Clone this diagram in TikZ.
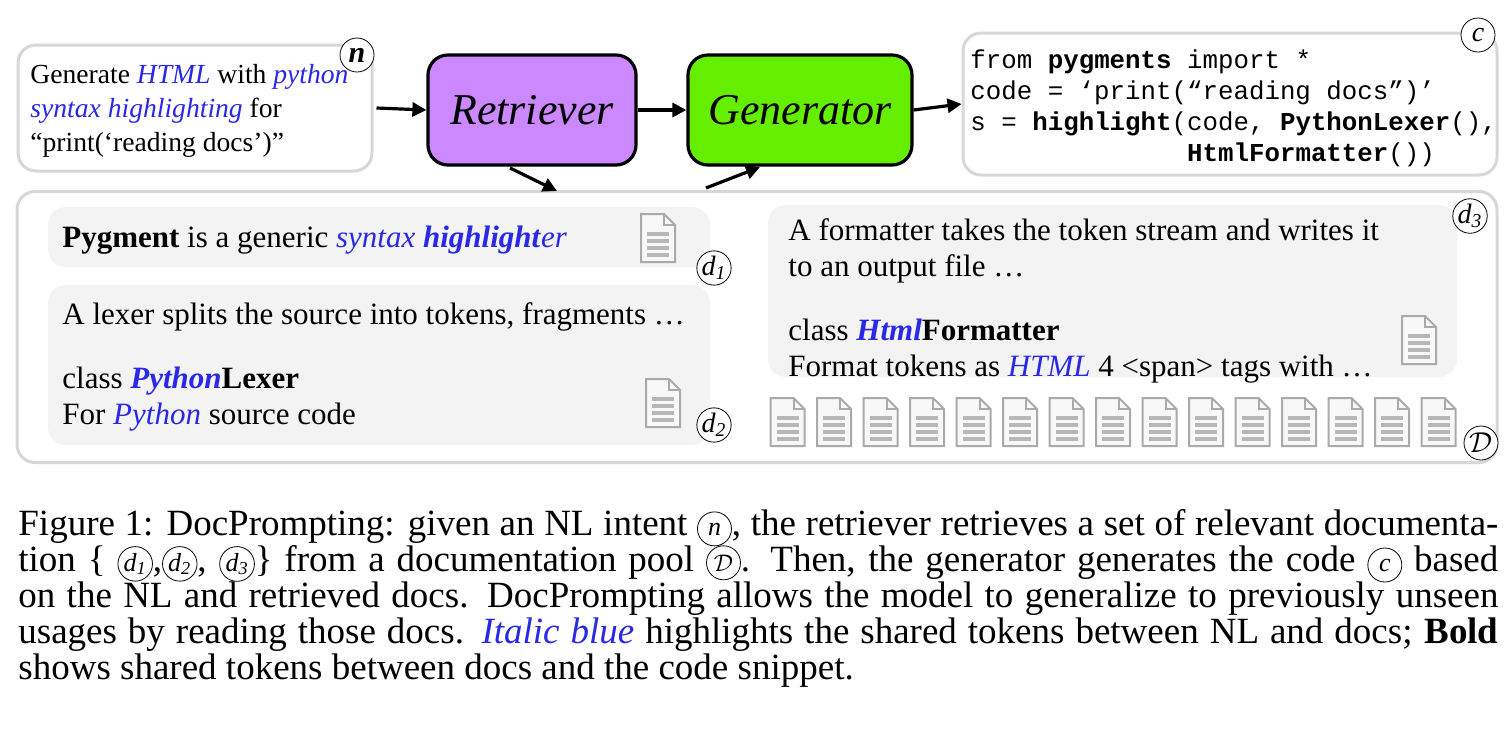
\documentclass[tikz,border=0pt]{standalone}
\usepackage{fontspec}
\setmainfont{Liberation Serif}
\setmonofont{Liberation Mono}
\usetikzlibrary{arrows.meta}
\definecolor{hb}{RGB}{40,40,230}
\definecolor{pur}{RGB}{204,136,255}
\definecolor{grn}{RGB}{102,238,0}
\definecolor{bx}{RGB}{215,215,215}
\definecolor{dfill}{RGB}{243,243,243}
\definecolor{ic}{RGB}{170,170,170}
\newcommand{\hl}[1]{\textcolor{hb}{\textit{#1}}}
\newcommand{\hlb}[1]{\textcolor{hb}{\textbf{\textit{#1}}}}
\newcommand{\cir}[1]{\tikz[baseline=(X.base)]\node[draw,circle,inner sep=0.5pt,minimum size=17pt,font=\itshape\fontsize{13}{13}\selectfont](X){#1};}
\tikzset{
  cbox/.style={draw=bx,line width=1.5pt,rounded corners=9pt},
  dbox/.style={fill=dfill,draw=none,rounded corners=9pt},
  model/.style={draw=black,line width=1.6pt,rounded corners=10pt,font=\itshape\fontsize{22}{24}\selectfont},
  arr/.style={-{Triangle[length=7pt,width=7pt]},line width=1.6pt},
  lab/.style={draw,circle,fill=white,inner sep=0pt,minimum size=17pt,font=\itshape\fontsize{14}{14}\selectfont},
  txt/.style={font=\fontsize{15.5}{19}\selectfont,anchor=north west,align=left,inner sep=0pt},
  doc/.pic={
    \draw[ic,fill=dfill!60,line width=1pt] (-17,-24)--(6,-24)--(17,-13)--(17,24)--(-17,24)--cycle;
    \draw[ic,line width=1pt] (6,-24)--(6,-13)--(17,-13);
    \foreach \yy in {-4,3,10,17}{\draw[ic!85,line width=2.2pt](-11,\yy)--(11,\yy);}
  }
}
\begin{document}
\begin{tikzpicture}[x=0.5pt,y=-0.5pt]
\useasboundingbox (0,0) rectangle (1512,756);
% NL box
\node[cbox,minimum width=177pt,minimum height=63pt] (nl) at (195,108) {};
\node[txt,font=\fontsize{13.8}{17}\selectfont] (nlt) at (30,64) {Generate \hl{HTML} with \hl{python}\\\hl{syntax highlighting} for\\``print(`reading docs')''};
\node[lab,font=\bfseries\itshape\fontsize{15}{15}\selectfont] (n) at (357,55) {n};
% models
\node[model,fill=pur,minimum width=104pt,minimum height=55pt] (ret) at (532,110) {Retriever};
\node[model,fill=grn,minimum width=112pt,minimum height=55pt] (gen) at (800,110) {Generator};
% code
\node[cbox,minimum width=267pt,minimum height=71pt] (code) at (1230,104) {};
\node[txt,font=\ttfamily\fontsize{12.9}{15.5}\selectfont] (ct) at (970,49) {from \textbf{pygments} import *\\code = ‘print(“reading docs”)’\\s = \textbf{highlight}(code, \textbf{PythonLexer}(),\\\phantom{s = highlight(}\textbf{HtmlFormatter}())};
\node[lab] (c) at (1478,35) {c};
\draw[arr] (nl.east) ++(3,0) coordinate (a1) -- (ret.west);
\draw[arr] (ret) -- (gen);
\draw[arr] (gen.east) -- (code.west);
% pool
\node[cbox,minimum width=740pt,minimum height=135.5pt] (pool) at (757,327) {};
\coordinate (r1) at (510,168); \coordinate (r2) at (557,191);
\coordinate (g1) at (706,188); \coordinate (g2) at (760,167);
\draw[arr] (r1) -- (r2);
\draw[arr] (g1) -- (g2);
% d1
\node[dbox,minimum width=331pt,minimum height=30pt] (d1b) at (379,237) {};
\node[txt] (d1t) at (62,226) {\textbf{Pygment} is a generic \hl{syntax} \hlb{highlight}\hl{er}};
\pic at (658,238) {doc};
\node[lab] (d1) at (714,268) {d\textsubscript{1}};
% d2
\node[dbox,minimum width=331pt,minimum height=80pt] (d2b) at (379,365) {};
\node[txt,font=\fontsize{15.5}{18}\selectfont] (d2t) at (62,302) {A lexer splits the source into tokens, fragments …\\[14pt]class \hlb{Python}\textbf{Lexer}\\For \hl{Python} source code};
\pic at (663,403) {doc};
\node[lab] (d2) at (714,425) {d\textsubscript{2}};
% d3
\node[dbox,minimum width=344.5pt,minimum height=86pt] (d3b) at (1112.5,291) {};
\node[txt,font=\fontsize{15.5}{18}\selectfont] (d3t) at (788,218) {A formatter takes the token stream and writes it\\to an output file …\\[14pt]class \hlb{Html}\textbf{Formatter}\\Format tokens as \hl{HTML} 4 <span> tags with …};
\pic at (1419,340) {doc};
\node[lab] (d3) at (1470,216) {d\textsubscript{3}};
\foreach \i in {0,...,14}{\pic at (787.5+46.5*\i,422) {doc};}
\node[lab] (D) at (1481,443) {$\mathcal{D}$};
% caption
\begin{scope}[every node/.style={anchor=base west,inner sep=0pt,font=\fontsize{18.5}{20}\selectfont}]
\node (l1) at (18,535) {\makebox[740pt][s]{Figure 1: DocPrompting: given an NL intent \cir{n}, the retriever retrieves a set of relevant documenta-}};
\node (l2) at (18,571) {\makebox[740pt][s]{tion \{ \cir{d\textsubscript{1}},\cir{d\textsubscript{2}}, \cir{d\textsubscript{3}}\} from a documentation pool \cir{$\mathcal{D}$}. Then, the generator generates the code \cir{c} based}};
\node (l3) at (18,607) {\makebox[740pt][s]{on the NL and retrieved docs. DocPrompting allows the model to generalize to previously unseen}};
\node (l4) at (18,643) {\makebox[740pt][s]{usages by reading those docs. \hl{Italic blue} highlights the shared tokens between NL and docs; \textbf{Bold}}};
\node (l5) at (18,679) {shows shared tokens between docs and the code snippet.};
\end{scope}
\end{tikzpicture}
\end{document}
